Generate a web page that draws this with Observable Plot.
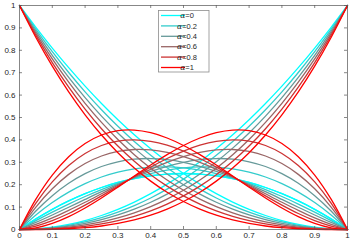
<!DOCTYPE html>
<html><head><meta charset="utf-8">
<script src="https://cdn.jsdelivr.net/npm/d3@7"></script>
<script src="https://cdn.jsdelivr.net/npm/@observablehq/plot@0.6"></script>
<style>body{margin:0;background:#fff;} #chart{width:354px;height:243px;}</style>
</head><body><div id="chart"></div>
<script>
const tValues = [0,0.05,0.1,0.15,0.2,0.25,0.3,0.35,0.4,0.45,0.5,0.55,0.6,0.65,0.7,0.75,0.8,0.85,0.9,0.95,1];
const alphas = [0, 0.2, 0.4, 0.6, 0.8, 1];
const alphaLabels = ["0", "0.2", "0.4", "0.6", "0.8", "1"];
// first basis function (from (0,1) down), one row per alpha
const b0Values = [
  [1,.9025,.81,.7225,.64,.5625,.49,.4225,.36,.3025,.25,.2025,.16,.1225,.09,.0625,.04,.0225,.01,.0025,0],
  [1,.8935,.7938,.7008,.6144,.5344,.4606,.3929,.3312,.2753,.225,.1802,.1408,.1066,.0774,.0531,.0336,.0187,.0082,.002,0],
  [1,.8844,.7776,.6792,.5888,.5063,.4312,.3633,.3024,.2481,.2,.1579,.1216,.0906,.0648,.0438,.0272,.0149,.0064,.0016,0],
  [1,.8754,.7614,.6575,.5632,.4781,.4018,.3338,.2736,.2208,.175,.1357,.1024,.0747,.0522,.0344,.0208,.011,.0046,.0011,0],
  [1,.8664,.7452,.6358,.5376,.45,.3724,.3042,.2448,.1936,.15,.1134,.0832,.0588,.0396,.025,.0144,.0072,.0028,.0006,0],
  [1,.8574,.729,.6141,.512,.4219,.343,.2746,.216,.1664,.125,.0911,.064,.0429,.027,.0156,.008,.0034,.001,.0001,0]
];
// second basis function (hump on the left), one row per alpha
const b1Values = [
  [0,.0475,.09,.1275,.16,.1875,.21,.2275,.24,.2475,.25,.2475,.24,.2275,.21,.1875,.16,.1275,.09,.0475,0],
  [0,.0651,.1206,.167,.2048,.2344,.2562,.2707,.2784,.2797,.275,.2648,.2496,.2298,.2058,.1781,.1472,.1135,.0774,.0394,0],
  [0,.0827,.1512,.2066,.2496,.2813,.3024,.314,.3168,.3119,.3,.2822,.2592,.232,.2016,.1688,.1344,.0994,.0648,.0314,0],
  [0,.1002,.1818,.2461,.2944,.3281,.3486,.3572,.3552,.344,.325,.2995,.2688,.2343,.1974,.1594,.1216,.0854,.0522,.0233,0],
  [0,.1178,.2124,.2856,.3392,.375,.3948,.4004,.3936,.3762,.35,.3168,.2784,.2366,.1932,.15,.1088,.0714,.0396,.0152,0],
  [0,.1354,.243,.3251,.384,.4219,.441,.4436,.432,.4084,.375,.3341,.288,.2389,.189,.1406,.096,.0574,.027,.0071,0]
];
const tickValues = [0,0.1,0.2,0.3,0.4,0.5,0.6,0.7,0.8,0.9,1];
const tickLabels = ["0","0.1","0.2","0.3","0.4","0.5","0.6","0.7","0.8","0.9","1"];

const colors = alphas.map(a => d3.rgb(255*a, 255*(1-a), 255*(1-a)).formatHex());

// the other two basis functions are the mirror images (t -> 1-t) of the first two
const rows = [];
alphas.forEach((a, i) => {
  const series = [b0Values[i], b1Values[i], b1Values[i].slice().reverse(), b0Values[i].slice().reverse()];
  series.forEach((vals, k) => vals.forEach((v, j) => rows.push({idx: i, basis: k, t: tValues[j], v})));
});

const W = 354, H = 243, mL = 19, mR = 7, mT = 5, mB = 14;
const innerW = W - mL - mR, innerH = H - mT - mB;
const tick = 3;

const plot = Plot.plot({
  width: W, height: H,
  marginLeft: mL, marginRight: mR, marginTop: mT, marginBottom: mB,
  x: {domain: [0, 1]},
  y: {domain: [0, 1]},
  style: {fontFamily: "'Liberation Sans', Arial, sans-serif", fontSize: "8px", color: "#262626", background: "#fff"},
  marks: [
    ...alphas.map((a, i) => Plot.line(rows.filter(r => r.idx === i), {
      x: "t", y: "v", z: "basis", stroke: colors[i], strokeWidth: 1.3, curve: "catmull-rom"
    })),
    Plot.frame({stroke: "#555", strokeWidth: 0.7}),
    Plot.tickX(tickValues, {x: d => d, insetTop: innerH - tick, stroke: "#555", strokeWidth: 0.7}),
    Plot.tickX(tickValues, {x: d => d, insetBottom: innerH - tick, stroke: "#555", strokeWidth: 0.7}),
    Plot.tickY(tickValues, {y: d => d, insetRight: innerW - tick, stroke: "#555", strokeWidth: 0.7}),
    Plot.tickY(tickValues, {y: d => d, insetLeft: innerW - tick, stroke: "#555", strokeWidth: 0.7}),
    Plot.axisX(tickValues, {tickSize: 0, tickPadding: 3, fontSize: 8, tickFormat: d => tickLabels[tickValues.indexOf(d)], label: null}),
    Plot.axisY(tickValues, {tickSize: 0, tickPadding: 4, fontSize: 8, tickFormat: d => tickLabels[tickValues.indexOf(d)], label: null})
  ]
});
document.getElementById("chart").appendChild(plot);

// legend inside the axes, near the top centre
const lg = d3.select(plot).append("g");
lg.append("rect").attr("x", 158.5).attr("y", 10.5).attr("width", 50.5).attr("height", 61.5)
  .attr("fill", "white").attr("stroke", "#8c8c8c").attr("stroke-width", 0.8);
alphas.forEach((a, i) => {
  const y = 15.5 + i * 10.4;
  lg.append("line").attr("x1", 161).attr("x2", 185).attr("y1", y).attr("y2", y)
    .attr("stroke", colors[i]).attr("stroke-width", 1.3);
  const tx = lg.append("text").attr("x", 187).attr("y", y).attr("dy", "0.35em")
    .attr("font-size", 7.5).attr("fill", "#262626");
  tx.append("tspan").attr("font-family", "'DejaVu Serif', serif").attr("font-style", "italic").text("α");
  tx.append("tspan").text("=" + alphaLabels[i]);
});
</script>
</body></html>
